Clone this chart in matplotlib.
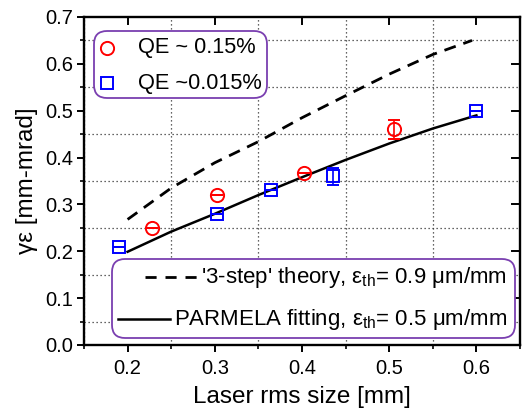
import matplotlib
matplotlib.use("Agg")
import matplotlib.pyplot as plt
from matplotlib.patches import FancyBboxPatch
from matplotlib.ticker import MultipleLocator, FormatStrFormatter

plt.rcParams['font.family'] = ['Liberation Sans', 'DejaVu Sans']
plt.rcParams['mathtext.fontset'] = 'custom'
plt.rcParams['mathtext.rm'] = 'Liberation Sans'
plt.rcParams['mathtext.it'] = 'Liberation Sans:italic'

# ---- data ----
qe_high_x = [0.228, 0.303, 0.402, 0.505]
qe_high_y = [0.25, 0.32, 0.368, 0.46]
qe_high_err = [0.0, 0.0, 0.0, 0.02]

qe_low_x = [0.19, 0.303, 0.364, 0.435, 0.60]
qe_low_y = [0.21, 0.279, 0.33, 0.36, 0.50]
qe_low_err = [0.0, 0.0, 0.0, 0.018, 0.0]

theory_x = [0.20, 0.25, 0.30, 0.35, 0.40, 0.45, 0.50, 0.55, 0.595]
theory_y = [0.268, 0.335, 0.389, 0.434, 0.485, 0.532, 0.578, 0.620, 0.650]

parmela_x = [0.20, 0.25, 0.30, 0.35, 0.40, 0.45, 0.50, 0.55, 0.60]
parmela_y = [0.199, 0.242, 0.280, 0.320, 0.358, 0.395, 0.430, 0.462, 0.490]

legend1_labels = ['QE ~ 0.15%', 'QE ~0.015%']
legend2_labels = ["'3-step' theory, ε$_{\\rm th}$= 0.9 μm/mm",
                  "PARMELA fitting, ε$_{\\rm th}$= 0.5 μm/mm"]

fig = plt.figure(figsize=(5.22, 4.09), dpi=100)
ax = fig.add_axes([84/522, 1-345/409, 436/522, 328/409])

ax.set_xlim(0.15, 0.65)
ax.set_ylim(0.0, 0.7)
ax.xaxis.set_major_locator(MultipleLocator(0.1))
ax.xaxis.set_minor_locator(MultipleLocator(0.05))
ax.yaxis.set_major_locator(MultipleLocator(0.1))
ax.yaxis.set_minor_locator(MultipleLocator(0.05))
ax.xaxis.set_major_formatter(FormatStrFormatter('%.1f'))
ax.yaxis.set_major_formatter(FormatStrFormatter('%.1f'))

# grid at minor positions only
ax.grid(which='minor', linestyle=(0, (1, 2.2)), color='#333333', linewidth=0.9)
ax.grid(which='major', visible=False)
ax.set_axisbelow(True)

for s in ax.spines.values():
    s.set_linewidth(1.7)

ax.tick_params(axis='x', which='major', direction='out', length=5, width=1.4,
               labelsize=14.5, pad=5, top=False, right=False)
ax.tick_params(axis='y', which='major', direction='out', length=5, width=1.4,
               labelsize=14.5, pad=3, top=False, right=False)
ax.tick_params(axis='both', which='minor', direction='out', length=3, width=1.2,
               top=False, right=False)

# inward major ticks on top/right
for xv in [0.2, 0.3, 0.4, 0.5, 0.6]:
    ax.plot([xv, xv], [0.7, 0.7 - 0.016], color='black', lw=1.4, clip_on=False, zorder=5)
for yv in [0.1, 0.2, 0.3, 0.4, 0.5, 0.6]:
    ax.plot([0.65, 0.65 - 0.009], [yv, yv], color='black', lw=1.4, clip_on=False, zorder=5)

ax.plot(theory_x, theory_y, color='black', lw=2.0, linestyle=(0, (4.3, 2.9)))
ax.plot(parmela_x, parmela_y, color='black', lw=1.8)

ax.errorbar(qe_high_x, qe_high_y, yerr=qe_high_err, fmt='o', mfc='none', mec='#ff0000',
            ecolor='#ff0000', mew=1.4, ms=9.5, capsize=4, elinewidth=1.2, capthick=1.2, zorder=6)
ax.errorbar(qe_low_x, qe_low_y, yerr=qe_low_err, fmt='s', mfc='none', mec='#0000ff',
            ecolor='#0000ff', mew=1.4, ms=9, capsize=4, elinewidth=1.2, capthick=1.2, zorder=6)

ax.set_xlabel('Laser rms size [mm]', fontsize=17.5, labelpad=6)
ax.set_ylabel('γε [mm-mrad]', fontsize=17.5, labelpad=5)

purple = '#7a3fb0'

def px2ax(px, py):
    return (px - 84) / 436, (345 - py) / 328

# legend 1
x0, y0 = px2ax(94, 98)
x1, y1 = px2ax(267, 31)
box1 = FancyBboxPatch((x0, y0), x1 - x0, y1 - y0, boxstyle='round,pad=0,rounding_size=0.03',
                      transform=ax.transAxes, facecolor='white', edgecolor=purple, lw=1.3, zorder=7,
                      mutation_aspect=436/328)
ax.add_patch(box1)
mx, my1 = px2ax(107, 48)
_, my2 = px2ax(107, 83)
tx, _ = px2ax(138, 0)
ax.plot([mx], [my1], 'o', mfc='none', mec='#ff0000', mew=1.4, ms=9.5, transform=ax.transAxes, zorder=8)
ax.plot([mx], [my2], 's', mfc='none', mec='#0000ff', mew=1.4, ms=9, transform=ax.transAxes, zorder=8)
ax.text(tx, my1, legend1_labels[0], transform=ax.transAxes, fontsize=15.7, va='center', ha='left', zorder=8)
ax.text(tx, my2, legend1_labels[1], transform=ax.transAxes, fontsize=15.7, va='center', ha='left', zorder=8)

# legend 2
x0, y0 = px2ax(112, 338)
x1, y1 = px2ax(515, 259)
box2 = FancyBboxPatch((x0, y0), x1 - x0, y1 - y0, boxstyle='round,pad=0,rounding_size=0.03',
                      transform=ax.transAxes, facecolor='white', edgecolor=purple, lw=1.3, zorder=7,
                      mutation_aspect=436/328)
ax.add_patch(box2)
_, ry1 = px2ax(0, 277)
_, ry2 = px2ax(0, 319)
hx0, _ = px2ax(145, 0)
hx1, _ = px2ax(198, 0)
ax.plot([hx0, hx1], [ry1, ry1], color='black', lw=2.0, linestyle=(0, (4, 3.2)),
        transform=ax.transAxes, zorder=8)
hx0, _ = px2ax(118, 0)
hx1, _ = px2ax(170, 0)
ax.plot([hx0, hx1], [ry2, ry2], color='black', lw=1.8, transform=ax.transAxes, zorder=8)
rx, _ = px2ax(507, 0)
ax.text(rx, ry1, legend2_labels[0], transform=ax.transAxes, fontsize=16, va='center', ha='right', zorder=8)
ax.text(rx, ry2, legend2_labels[1], transform=ax.transAxes, fontsize=16, va='center', ha='right', zorder=8)

fig.savefig('out.png', dpi=100)
